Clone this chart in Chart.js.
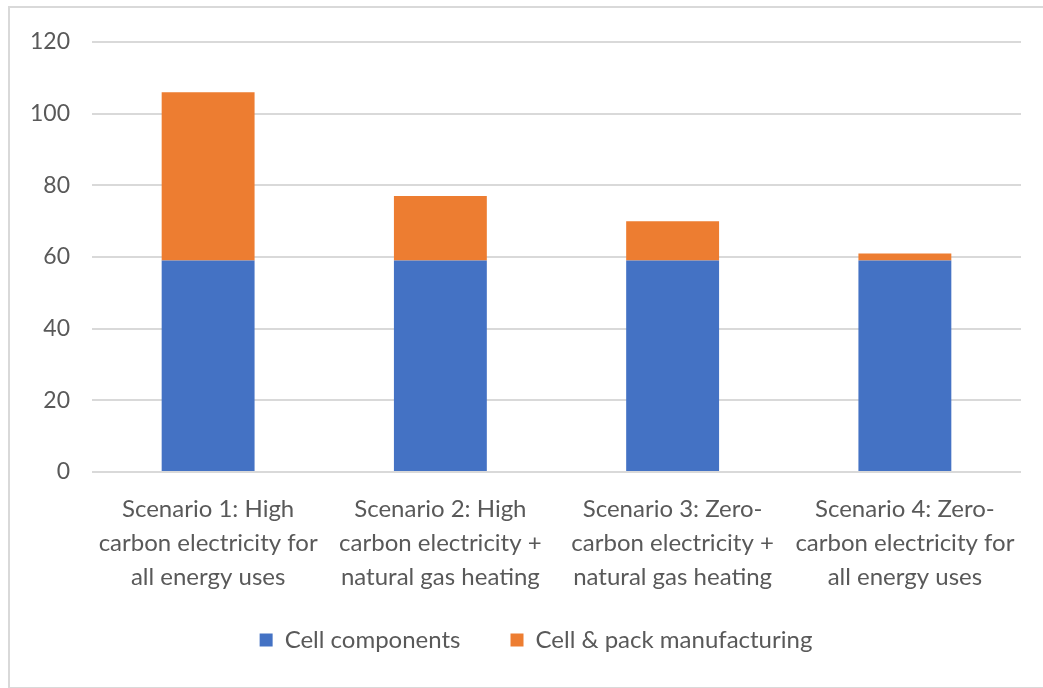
<!DOCTYPE html>
<html>
<head>
<meta charset="utf-8">
<title>Battery emissions by scenario</title>
<script src="https://cdn.jsdelivr.net/npm/chart.js@4/dist/chart.umd.min.js"></script>
<style>
  html, body { margin: 0; padding: 0; background: #ffffff; }
  #wrap { position: relative; width: 1043px; height: 688px; overflow: hidden; }
  #frame {
    position: absolute; left: 8px; top: 6px; width: 1100px; height: 679px;
    border-left: 2.5px solid #d9d9d9; border-top: 2px solid #d9d9d9; border-bottom: 2.5px solid #d9d9d9;
    pointer-events: none;
  }
  canvas { position: absolute; left: 0; top: 0; }
</style>
</head>
<body>
<div id="wrap">
  <canvas id="chart" width="1043" height="688"></canvas>
  <div id="frame"></div>
</div>
<script>
// Scenario labels, split into the lines shown under each bar
const categories = [
  ['Scenario 1: High', 'carbon electricity for', 'all energy uses'],
  ['Scenario 2: High', 'carbon electricity +', 'natural gas heating'],
  ['Scenario 3: Zero-', 'carbon electricity +', 'natural gas heating'],
  ['Scenario 4: Zero-', 'carbon electricity for', 'all energy uses']
];

// Stacked segment values
const cellComponents = [59, 59, 59, 59];
const cellPackManufacturing = [47, 18, 11, 2];

const seriesNames = ['Cell components', 'Cell & pack manufacturing'];
const yTicks = [0, 20, 40, 60, 80, 100, 120];

const FONT = 'Lato, "Open Sans", sans-serif';
const TEXT = '#595959';

// Fixed axis sizes; tick labels may spill outside the axis box without being clipped
function fixedSize(prop, value) {
  return (scale) => {
    scale[prop] = value;
    scale._computeLabelArea = () => undefined;
  };
}

new Chart(document.getElementById('chart'), {
  type: 'bar',
  data: {
    labels: categories,
    datasets: [
      { label: seriesNames[0], data: cellComponents, backgroundColor: '#4472C4', borderWidth: 0 },
      { label: seriesNames[1], data: cellPackManufacturing, backgroundColor: '#ED7D31', borderWidth: 0 }
    ]
  },
  options: {
    responsive: false,
    animation: false,
    devicePixelRatio: 1,
    layout: { padding: { top: 42, right: 22, bottom: 26, left: 51 } },
    datasets: { bar: { categoryPercentage: 1, barPercentage: 0.4 } },
    scales: {
      x: {
        stacked: true,
        afterFit: fixedSize('height', 106),
        grid: { display: false, drawTicks: false },
        border: { display: false },
        ticks: {
          color: TEXT,
          font: { family: FONT, size: 24, lineHeight: 1.42 },
          padding: 20,
          maxRotation: 0,
          autoSkip: false
        }
      },
      y: {
        stacked: true,
        min: 0,
        max: 120,
        afterBuildTicks: (scale) => { scale.ticks = yTicks.map(v => ({ value: v })); },
        afterFit: fixedSize('width', 41),
        grid: { color: '#d9d9d9', lineWidth: 2, drawTicks: false },
        border: { display: false },
        ticks: {
          color: TEXT,
          font: { family: FONT, size: 23 },
          padding: 22
        }
      }
    },
    plugins: {
      tooltip: { enabled: false },
      legend: {
        position: 'bottom',
        labels: {
          color: TEXT,
          font: { family: FONT, size: 24 },
          boxWidth: 13,
          boxHeight: 13,
          padding: 50
        }
      }
    }
  }
});
</script>
</body>
</html>
